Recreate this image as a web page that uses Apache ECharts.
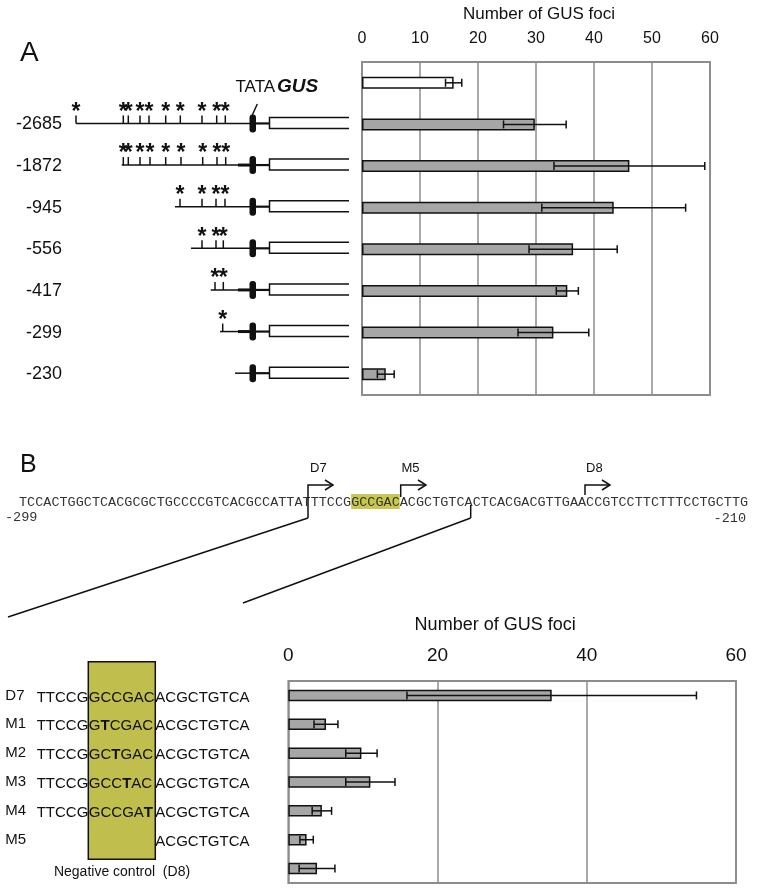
<!DOCTYPE html>
<html>
<head>
<meta charset="utf-8">
<script src="https://cdn.jsdelivr.net/npm/echarts@6/dist/echarts.min.js"></script>
<style>
  html, body { margin: 0; padding: 0; background: #fff; }
  #chart { width: 758px; height: 889px; }
</style>
</head>
<body>
<div id="chart"></div>
<script>
// panel A: promoter deletions (first row = unlabeled white bar)
var aCategories = ['', '-2685', '-1872', '-945', '-556', '-417', '-299', '-230'];
var aMeans = [15.8, 29.8, 46.1, 43.4, 36.4, 35.4, 33.0, 4.1];
var aErrors = [1.4, 5.4, 13.0, 12.4, 7.6, 1.9, 6.1, 1.45];

// panel B: mutations of the GCCGAC core
var bCategories = ['D7', 'M1', 'M2', 'M3', 'M4', 'M5', 'D8'];
var bMeans = [35.3, 5.05, 9.8, 11.0, 4.5, 2.45, 3.85];
var bErrors = [19.4, 1.6, 2.1, 3.3, 1.3, 0.9, 2.4];

// sequences shown left of panel B bars, [x] = mutated base (bold)
var seqLeft = ['TTCCG', 'TTCCG', 'TTCCG', 'TTCCG', 'TTCCG', ''];
var seqCore = ['GCCGAC', 'G[T]CGAC', 'GC[T]GAC', 'GCC[T]AC', 'GCCGA[T]', ''];
var seqRight = ['ACGCTGTCA', 'ACGCTGTCA', 'ACGCTGTCA', 'ACGCTGTCA', 'ACGCTGTCA', 'ACGCTGTCA'];

var promoterSeq = 'TCCACTGGCTCACGCGCTGCCCCGTCACGCCATTATTTCCGGCCGACACGCTGTCACTCACGACGTTGAACCGTCCTTCTTTCCTGCTTG';

// schematic of each deletion construct (pixel layout of the drawing)
var diagram = [
  { start: 76, sites: [76, 123.3, 128.3, 140, 149, 165.7, 180.3, 202, 216.7, 225.3] },
  { start: 121.7, sites: [123.3, 128.3, 140, 150, 165.7, 181, 202.7, 217, 225.7], thick: true },
  { start: 175, sites: [180, 202, 216, 225] },
  { start: 191, sites: [202, 216, 223.3] },
  { start: 210.7, sites: [215, 223.3], thick: true },
  { start: 220, sites: [222.7], thick: true },
  { start: 235, sites: [] }
];

var font = '"Liberation Sans", Arial, sans-serif';
var chart = echarts.init(document.getElementById('chart'));

function errorBar(params, api) {
  var y = api.value(2);
  var lo = api.coord([api.value(0), y]);
  var hi = api.coord([api.value(1), y]);
  var c = 4;
  var st = { stroke: '#111', lineWidth: 1.5 };
  return {
    type: 'group',
    children: [
      { type: 'line', shape: { x1: lo[0], y1: lo[1], x2: hi[0], y2: hi[1] }, style: st },
      { type: 'line', shape: { x1: lo[0], y1: lo[1] - c, x2: lo[0], y2: lo[1] + c }, style: st },
      { type: 'line', shape: { x1: hi[0], y1: hi[1] - c, x2: hi[0], y2: hi[1] + c }, style: st }
    ]
  };
}

function errData(means, errs) {
  return means.map(function (m, i) { return [m - errs[i], m + errs[i], i]; });
}

var gridLine = { show: true, lineStyle: { color: '#8c8c8c', width: 1.5 } };

chart.setOption({
  animation: false,
  grid: [
    { left: 362, top: 62, width: 348, height: 333, show: true, borderColor: '#8c8c8c', borderWidth: 1.8, outerBoundsMode: 'none' },
    { left: 288.3, top: 681, width: 447.7, height: 202, show: true, borderColor: '#8c8c8c', borderWidth: 1.8, outerBoundsMode: 'none' }
  ],
  xAxis: [
    {
      gridIndex: 0, type: 'value', position: 'top', min: 0, max: 60, interval: 10,
      name: 'Number of GUS foci', nameLocation: 'middle', nameGap: 39,
      nameTextStyle: { fontSize: 17, color: '#111', fontFamily: font, padding: [0, 0, 0, 6] },
      axisLine: { show: false }, axisTick: { show: false }, splitLine: gridLine,
      axisLabel: { fontSize: 16, color: '#111', margin: 15, fontFamily: font }
    },
    {
      gridIndex: 1, type: 'value', position: 'top', min: 0, max: 60, interval: 20,
      name: 'Number of GUS foci', nameLocation: 'middle', nameGap: 47,
      nameTextStyle: { fontSize: 18, color: '#111', fontFamily: font, padding: [0, 34, 0, 0] },
      axisLine: { show: false }, axisTick: { show: false }, splitLine: gridLine,
      axisLabel: { fontSize: 19, color: '#111', margin: 16, fontFamily: font }
    }
  ],
  yAxis: [
    {
      gridIndex: 0, type: 'category', inverse: true, data: aCategories,
      axisLine: { show: false }, axisTick: { show: false },
      axisLabel: { margin: 300, fontSize: 18, color: '#111', fontFamily: font }
    },
    {
      gridIndex: 1, type: 'category', inverse: true, data: bCategories,
      axisLine: { show: false }, axisTick: { show: false },
      axisLabel: {
        margin: 283, align: 'left', fontSize: 15, color: '#111', fontFamily: font,
        formatter: function (v) { return v === 'D8' ? '' : v; }
      }
    }
  ],
  series: [
    {
      type: 'bar', xAxisIndex: 0, yAxisIndex: 0, barWidth: 12,
      itemStyle: { color: '#a6a6a6', borderColor: '#111', borderWidth: 1.5 },
      data: aMeans.map(function (v, i) {
        return i === 0 ? { value: v, itemStyle: { color: '#fff' } } : v;
      })
    },
    {
      type: 'custom', xAxisIndex: 0, yAxisIndex: 0, renderItem: errorBar,
      encode: { x: [0, 1], y: 2 }, data: errData(aMeans, aErrors), z: 5
    },
    {
      type: 'bar', xAxisIndex: 1, yAxisIndex: 1, barWidth: 11.5,
      itemStyle: { color: '#a6a6a6', borderColor: '#111', borderWidth: 1.5 },
      data: bMeans
    },
    {
      type: 'custom', xAxisIndex: 1, yAxisIndex: 1, renderItem: errorBar,
      encode: { x: [0, 1], y: 2 }, data: errData(bMeans, bErrors), z: 5
    }
  ]
});

// ---- drawings around the charts ----
var g = [];

function line(x1, y1, x2, y2, w) {
  g.push({ type: 'line', shape: { x1: x1, y1: y1, x2: x2, y2: y2 },
    style: { stroke: '#111', lineWidth: w || 1.5 }, silent: true });
}
function text(str, x, y, opt) {
  opt = opt || {};
  g.push({ type: 'text', silent: true, style: {
    text: str, x: x, y: y, fill: opt.fill || '#111',
    font: opt.font || ('15px ' + font),
    textAlign: opt.align || 'left', textVerticalAlign: opt.valign || 'middle'
  }});
}
function arrow(x, yBottom, yTop, xEnd) {
  g.push({ type: 'polyline', silent: true, shape: { points: [[x, yBottom], [x, yTop], [xEnd, yTop]] }, style: { stroke: '#111', lineWidth: 1.5, fill: null } });
  g.push({ type: 'polyline', silent: true, shape: { points: [[xEnd - 8, yTop - 5], [xEnd, yTop], [xEnd - 8, yTop + 5]] }, style: { stroke: '#111', lineWidth: 1.5, fill: null } });
}

text('A', 20, 53, { font: '28px ' + font });
text('TATA', 235.5, 87, { font: '17px ' + font });
text('GUS', 277, 87, { font: 'italic bold 19px ' + font });
line(252.3, 115, 257.3, 104);

diagram.forEach(function (d, i) {
  var y = chart.convertToPixel({ yAxisIndex: 0 }, aCategories[i + 1]) - 1;
  line(d.start, y, 252, y);
  if (d.thick) line(238, y, 252, y, 3);
  line(252, y, 269.5, y, 2.2);
  d.sites.forEach(function (sx) {
    line(sx, y, sx, y - 8);
    text('*', sx, y - 11, { font: 'bold 23px ' + font, align: 'center' });
  });
  // GUS box open at right
  g.push({ type: 'polyline', silent: true,
    shape: { points: [[349, y - 6], [269.5, y - 6], [269.5, y + 5], [349, y + 5]] },
    style: { stroke: '#111', lineWidth: 1.5, fill: null } });
  g.push({ type: 'rect', silent: true, shape: { x: 249.5, y: y - 9, width: 6.5, height: 18, r: 3 }, style: { fill: '#111' } });
});

// panel B header: sequence with the D7 / M5 / D8 start sites
text('B', 20, 465, { font: '25px ' + font });
var seqX = 19, cw = 8.1, seqY = 502;
g.push({ type: 'rect', silent: true, shape: { x: seqX + 41 * cw, y: seqY - 8, width: 6 * cw, height: 15 }, style: { fill: '#c8c850' } });
text(promoterSeq, seqX, seqY, { font: '13.5px "Liberation Mono", monospace', fill: '#333' });
text('-299', 5, 517, { font: '13.5px "Liberation Mono", monospace', fill: '#333' });
text('-210', 746, 518, { font: '13.5px "Liberation Mono", monospace', fill: '#333', align: 'right' });

arrow(308, 518, 485, 333);
arrow(400.7, 497, 485, 426);
arrow(585, 495, 485, 610);
text('D7', 310, 468, { font: '13px ' + font });
text('M5', 401.5, 468, { font: '13px ' + font });
text('D8', 586, 468, { font: '13px ' + font });
line(308, 518, 8, 617);
line(470.7, 505, 470.7, 518);
line(470.7, 518, 243, 603);

// panel B left: core box and sequences
g.push({ type: 'rect', silent: true, shape: { x: 88.3, y: 661.7, width: 67, height: 197.6 }, style: { fill: '#c0bf4d', stroke: '#111', lineWidth: 1.5 } });
seqLeft.forEach(function (s, i) {
  var y = chart.convertToPixel({ yAxisIndex: 1 }, bCategories[i]) + 2;
  if (s) text(s, 36.7, y);
  if (seqCore[i]) {
    var rich = seqCore[i].replace(/\[(\w)\]/g, '{b|$1}');
    g.push({ type: 'text', silent: true, style: {
      text: rich, x: 88.8, y: y, fill: '#111', font: '15px ' + font,
      textVerticalAlign: 'middle',
      rich: { b: { fontWeight: 'bold', fontSize: 15, fontFamily: font, fill: '#111' } }
    }});
  }
  text(seqRight[i], 155.3, y);
});
text('Negative control  (D8)', 122, 872, { font: '14px ' + font, align: 'center' });

chart.setOption({ graphic: g });
</script>
</body>
</html>
